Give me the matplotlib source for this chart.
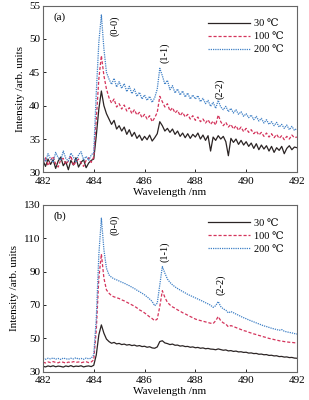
import matplotlib
matplotlib.use("Agg")
import matplotlib.pyplot as plt
import numpy as np

plt.rcParams['font.family'] = ['Liberation Serif', 'DejaVu Serif']
plt.rcParams['font.size'] = 8

# wavelength sampling, 482.0 ... 492.0 nm in 0.1 nm steps
wl = np.linspace(482.0, 492.0, 101)

# panel (a)
a_30 = [31.8, 30.9, 32.0, 31.2, 31.9, 30.6, 31.7, 32.3, 31.0, 31.6,
        30.4, 31.8, 31.1, 32.2, 30.8, 31.5, 31.9, 30.7, 31.4, 31.8,
        32.0, 35.5, 39.5, 42.2, 40.0, 38.8, 38.0, 37.2, 37.8, 36.5,
        37.0, 36.2, 36.8, 35.7, 36.4, 35.4, 36.0, 35.1, 35.6, 34.8,
        35.4, 34.9, 35.6, 34.7, 35.2, 35.8, 37.6, 37.0, 36.2, 36.6,
        36.0, 36.5, 35.7, 36.2, 35.4, 35.9, 35.2, 35.8, 35.1, 35.7,
        35.3, 35.9, 35.0, 35.6, 34.8, 35.5, 33.2, 35.3, 34.8, 35.5,
        35.0, 35.4, 34.6, 32.5, 35.1, 34.5, 35.0, 34.2, 34.8, 34.1,
        34.6, 33.9, 34.4, 33.6, 34.3, 33.4, 34.1, 33.5, 34.0, 33.2,
        33.9, 33.0, 33.7, 33.3, 33.9, 32.8, 33.6, 34.0, 33.4, 33.8,
        33.7]
a_100 = [31.5, 32.2, 31.0, 31.8, 32.4, 31.3, 30.8, 31.9, 32.1, 31.2,
         31.7, 32.5, 31.0, 31.6, 32.0, 31.4, 30.9, 31.8, 32.2, 31.5,
         32.3, 38.0, 44.0, 47.5, 44.5, 42.5, 41.2, 40.4, 41.0, 39.8,
         40.3, 39.5, 40.1, 39.2, 39.7, 38.8, 39.4, 38.6, 39.0, 38.2,
         38.7, 38.0, 38.5, 37.6, 38.2, 39.0, 41.4, 40.6, 39.8, 40.3,
         39.2, 39.7, 38.9, 39.3, 38.5, 39.0, 38.3, 38.7, 38.0, 38.5,
         37.8, 38.3, 37.6, 38.0, 37.4, 37.9, 37.2, 37.7, 37.1, 38.6,
         37.6, 37.0, 37.5, 36.8, 37.2, 36.5, 37.0, 36.3, 36.8, 36.1,
         36.6, 36.0, 36.4, 35.8, 36.2, 35.6, 36.0, 35.4, 35.9, 35.3,
         35.8, 35.2, 35.7, 35.1, 35.5, 34.9, 35.4, 35.0, 35.6, 35.2,
         35.3]
a_200 = [32.4, 31.6, 32.8, 32.0, 31.5, 33.0, 32.2, 31.8, 33.2, 32.1,
         31.7, 32.9, 32.3, 31.6, 32.6, 33.1, 31.9, 32.4, 31.8, 32.6,
         33.0, 42.0, 49.5, 53.6, 48.5, 45.0, 44.0, 43.2, 44.1, 42.8,
         43.6, 42.6, 43.3, 42.1, 42.9, 41.8, 42.5, 41.4, 42.0, 41.0,
         41.6, 40.8, 41.4, 40.5, 41.2, 42.5, 45.6, 44.5, 43.2, 43.8,
         42.4, 43.0, 41.9, 42.5, 41.6, 42.2, 41.3, 41.9, 41.0, 41.6,
         41.0, 41.5, 40.6, 41.1, 40.3, 40.8, 39.9, 40.5, 39.6, 40.8,
         39.8, 39.4, 39.9, 39.1, 39.6, 38.9, 39.4, 38.7, 39.1, 38.4,
         38.8, 38.2, 38.6, 37.9, 38.4, 37.7, 38.1, 37.4, 37.9, 37.2,
         37.6, 37.0, 37.5, 36.8, 37.2, 36.6, 37.1, 36.4, 36.9, 36.3,
         36.6]

# panel (b)
b_30 = [33.2, 32.8, 33.4, 33.0, 33.5, 32.9, 33.3, 33.1, 32.7, 33.4,
        33.0, 33.6, 32.9, 33.3, 33.1, 33.5, 32.8, 33.2, 33.4, 33.0,
        33.8, 40.0, 52.0, 58.0, 53.0, 49.5, 48.0, 47.0, 47.5, 46.6,
        46.9, 46.2, 46.5, 45.9, 46.2, 45.6, 45.9, 45.3, 45.6, 45.0,
        45.2, 44.6, 44.9, 44.2, 44.0, 44.8, 48.0, 48.5, 47.2, 46.8,
        46.2, 46.5, 45.8, 45.9, 45.3, 45.5, 45.0, 45.1, 44.6, 44.8,
        44.3, 44.5, 44.0, 44.2, 43.7, 43.9, 43.5, 43.4, 43.1, 43.6,
        43.2, 42.8, 43.0, 42.4, 42.6, 42.1, 42.3, 41.8, 41.9, 41.5,
        41.6, 41.1, 41.2, 40.8, 40.9, 40.4, 40.5, 40.1, 40.2, 39.7,
        39.8, 39.4, 39.5, 39.0, 39.1, 38.7, 38.8, 38.4, 38.5, 38.1,
        38.0]
b_100 = [35.6, 35.2, 35.8, 35.4, 36.0, 35.5, 35.3, 35.9, 35.6, 35.1,
         35.7, 35.4, 36.0, 35.5, 35.8, 35.3, 35.7, 35.9, 35.4, 35.8,
         37.0, 55.0, 86.0, 100.5, 86.0, 79.0, 77.0, 75.5, 74.8, 74.3,
         73.8, 73.0, 72.4, 71.6, 70.8, 70.0, 69.2, 68.2, 67.0, 66.2,
         65.2, 64.0, 62.8, 61.8, 60.5, 61.5, 69.0, 78.5, 74.5, 71.5,
         70.0, 68.8, 68.0, 67.0, 66.2, 65.3, 64.6, 63.8, 63.0, 62.3,
         61.5, 61.0, 60.6, 60.2, 59.8, 59.4, 59.0, 58.8, 60.5, 63.0,
         60.5, 59.2, 58.5, 56.8, 57.6, 57.0, 56.4, 55.8, 55.2, 54.6,
         54.2, 53.6, 53.1, 52.6, 52.2, 51.7, 51.3, 50.8, 50.4, 49.9,
         49.6, 49.2, 48.9, 48.5, 48.3, 48.0, 47.8, 47.6, 47.5, 47.3,
         47.2]
b_200 = [37.8, 37.4, 38.0, 37.6, 38.2, 37.5, 37.9, 37.3, 38.1, 37.7,
         37.4, 38.0, 37.6, 38.3, 37.5, 37.9, 37.4, 38.1, 37.7, 38.0,
         40.0, 62.0, 100.0, 122.0, 103.0, 92.0, 88.0, 86.5, 85.6, 85.0,
         84.3, 83.6, 83.0, 82.2, 81.5, 80.6, 79.8, 78.8, 77.9, 77.0,
         76.0, 74.8, 73.5, 72.0, 69.5, 71.0, 82.0, 93.0, 89.0, 85.5,
         83.5, 82.0, 80.8, 79.8, 78.9, 78.0, 77.2, 76.3, 75.6, 74.9,
         74.2, 73.5, 72.8, 72.1, 71.3, 70.6, 69.8, 68.5, 69.5, 72.0,
         69.0, 67.6, 66.8, 65.2, 66.0, 65.3, 64.5, 63.8, 63.0, 62.3,
         61.7, 61.0, 60.4, 59.8, 59.2, 58.6, 58.0, 57.4, 57.0, 56.5,
         56.0, 55.6, 55.2, 54.8, 55.2, 54.2, 53.8, 53.5, 53.2, 52.8,
         52.5]

labels = ["30 \u2103", "100 \u2103", "200 \u2103"]
colors = ["#2b2424", "#d4345c", "#3f80c6"]
styles = ["-", (0, (2.5, 1.5)), (0, (1, 0.8))]

# band labels: text, x, y (data coords)
bands_a = [("(0-0)", 484.83, 52.0), ("(1-1)", 486.8, 47.9), ("(2-2)", 488.97, 42.6)]
bands_b = [("(0-0)", 484.83, 118), ("(1-1)", 486.78, 102), ("(2-2)", 489.0, 82)]

fig = plt.figure(figsize=(3.09, 4.0), dpi=100)
ax1 = fig.add_axes([0.139, 0.569, 0.822, 0.417])
ax2 = fig.add_axes([0.139, 0.071, 0.822, 0.417])

panels = [(ax1, [a_30, a_100, a_200], (30, 55), [30, 35, 40, 45, 50, 55], bands_a, "(a)"),
          (ax2, [b_30, b_100, b_200], (30, 130), [30, 50, 70, 90, 110, 130], bands_b, "(b)")]

for ax, series, ylim, yt, bands, tag in panels:
    for ys, lab, c, ls in zip(series, labels, colors, styles):
        ax.plot(wl, ys, color=c, linestyle=ls, lw=0.9, label=lab)
    ax.set_xlim(482, 492)
    ax.set_ylim(*ylim)
    ax.set_xticks([482, 484, 486, 488, 490, 492])
    ax.set_yticks(yt)
    ax.tick_params(direction="in", length=2.5, width=0.6, labelsize=8)
    ax.tick_params(axis="x", pad=3.5)
    ax.tick_params(axis="y", pad=2)
    for sp in ax.spines.values():
        sp.set_color("#666666")
        sp.set_linewidth(0.8)
    ax.set_xlabel("Wavelength /nm", labelpad=1)
    ax.set_ylabel("Intensity /arb. units", labelpad=3)
    ax.text(0.04, 0.96, tag, transform=ax.transAxes, ha="left", va="top", fontsize=8)
    for t, x, y in bands:
        ax.text(x, y, t, rotation=90, ha="center", va="center", fontsize=7.5)
    leg = ax.legend(loc="upper right", frameon=False, fontsize=7.5, handlelength=4.0,
                    handletextpad=0.4, labelspacing=0.35, borderaxespad=0.9)

fig.savefig("out.png", dpi=100)
